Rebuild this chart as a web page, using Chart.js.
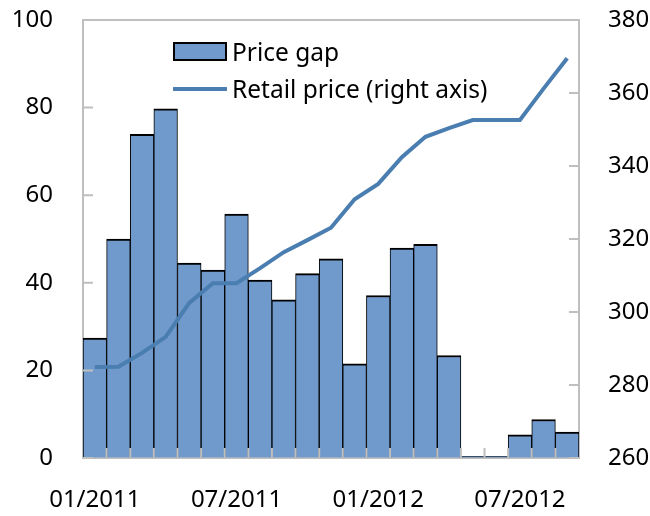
<!DOCTYPE html>
<html>
<head>
<meta charset="utf-8">
<script src="https://cdn.jsdelivr.net/npm/chart.js@4"></script>
<style>
  body { margin: 0; background: #fff; }
  #wrap { position: relative; width: 650px; height: 516px; }
  #legend { position: absolute; left: 173px; top: 33px; font-family: 'Noto Sans', sans-serif; font-size: 24.5px; color: #000; }
  #legend .item { display: flex; align-items: center; height: 37px; }
  #legend .sw { width: 54px; margin-right: 5px; box-sizing: border-box; }
</style>
</head>
<body>
<div id="wrap">
  <canvas id="gapCanvas" width="650" height="516"></canvas>
  <div id="legend"></div>
</div>
<script>
const months = ['01/2011', '02/2011', '03/2011', '04/2011', '05/2011', '06/2011', '07/2011', '08/2011', '09/2011', '10/2011', '11/2011', '12/2011',
  '01/2012', '02/2012', '03/2012', '04/2012', '05/2012', '06/2012', '07/2012', '08/2012', '09/2012']
const priceGap = [27.4, 50, 73.9, 79.7, 44.5, 42.9, 55.7, 40.6, 36.1, 42.1, 45.5, 21.5, 37.1, 47.9, 48.8, 23.4, 0.4, 0.4, 5.3, 8.8, 5.9]
const retailPrice = [284.9, 285, 288.8, 293.2, 302.5, 307.9, 307.9, 312, 316.4, 319.7, 323.1, 330.9, 335.1, 342.4, 348, 350.4, 352.6, 352.6, 352.6, 361.2, 369.5]
const gapLabel = 'Price gap'
const priceLabel = 'Retail price (right axis)'

const barBlue = '#7099CC'
const lineBlue = '#4A7EB0'
const axisGray = '#BFBFBF'
const font = { family: "'Noto Sans', sans-serif", size: 24 }

// top border of the plot box plus the small inward tick marks
const frame = {
  id: 'frame',
  afterDraw(chart) {
    const a = chart.chartArea
    const c = chart.ctx
    const { x, y, y1 } = chart.scales
    c.save()
    c.strokeStyle = axisGray
    c.lineWidth = 2
    c.beginPath()
    c.moveTo(a.left, a.top)
    c.lineTo(a.right, a.top)
    y.ticks.forEach(t => {
      const py = y.getPixelForValue(t.value)
      c.moveTo(a.left, py); c.lineTo(a.left + 10, py)
    })
    y1.ticks.forEach(t => {
      const py = y1.getPixelForValue(t.value)
      c.moveTo(a.right, py); c.lineTo(a.right - 10, py)
    })
    const half = (x.getPixelForValue(1) - x.getPixelForValue(0)) / 2
    for (let i = 1; i < months.length; i++) {
      const px = x.getPixelForValue(i) - half
      c.moveTo(px, a.bottom); c.lineTo(px, a.bottom - 10)
    }
    c.stroke()
    c.restore()
  }
}

// fixed axis sizes, no extra label overhang
const fitY = w => s => { s.width = w; s.paddingTop = 0; s.paddingBottom = 0 }

const ctx = document.getElementById('gapCanvas')
const gapChart = new Chart(ctx, {
  type: 'bar',
  data: {
    labels: months,
    datasets: [{
      type: 'line',
      label: priceLabel,
      data: retailPrice,
      yAxisID: 'y1',
      borderColor: lineBlue,
      borderWidth: 4,
      pointRadius: 0,
      tension: 0,
      order: 0
    }, {
      label: gapLabel,
      data: priceGap,
      yAxisID: 'y',
      backgroundColor: barBlue,
      borderColor: '#000',
      borderWidth: { top: 2, left: 1, right: 1, bottom: 0 },
      barPercentage: 1,
      categoryPercentage: 1,
      order: 1
    }]
  },
  options: {
    responsive: false,
    animation: false,
    layout: { padding: { left: 0, right: 0, top: 20, bottom: 0 } },
    plugins: { legend: { display: false }, tooltip: { enabled: false } },
    scales: {
      x: {
        z: 1,
        border: { color: axisGray, width: 2 },
        grid: { drawOnChartArea: false, drawTicks: false },
        ticks: {
          font: font, color: '#000', maxRotation: 0, autoSkip: false, padding: 28,
          callback: (v, i) => i % 6 === 0 ? months[i] : ''
        },
        afterFit: s => { s.height = 58; s.paddingLeft = 0; s.paddingRight = 0 }
      },
      y: {
        position: 'left', min: 0, max: 100, z: 1,
        border: { color: axisGray, width: 2 },
        grid: { drawOnChartArea: false, drawTicks: false },
        ticks: { stepSize: 20, font: font, color: '#000', padding: 30 },
        afterFit: fitY(83)
      },
      y1: {
        position: 'right', min: 260, max: 380, z: 1,
        border: { color: axisGray, width: 2 },
        grid: { drawOnChartArea: false, drawTicks: false },
        ticks: { stepSize: 20, font: font, color: '#000', padding: 29 },
        afterFit: fitY(71)
      }
    }
  },
  plugins: [frame]
})

// legend drawn as html over the chart
const legend = document.getElementById('legend')
legend.innerHTML =
  '<div class="item"><span class="sw" style="height:19px;background:' + barBlue + ';border:2px solid #000"></span>' + gapLabel + '</div>' +
  '<div class="item"><span class="sw" style="height:4px;background:' + lineBlue + '"></span>' + priceLabel + '</div>'
</script>
</body>
</html>
